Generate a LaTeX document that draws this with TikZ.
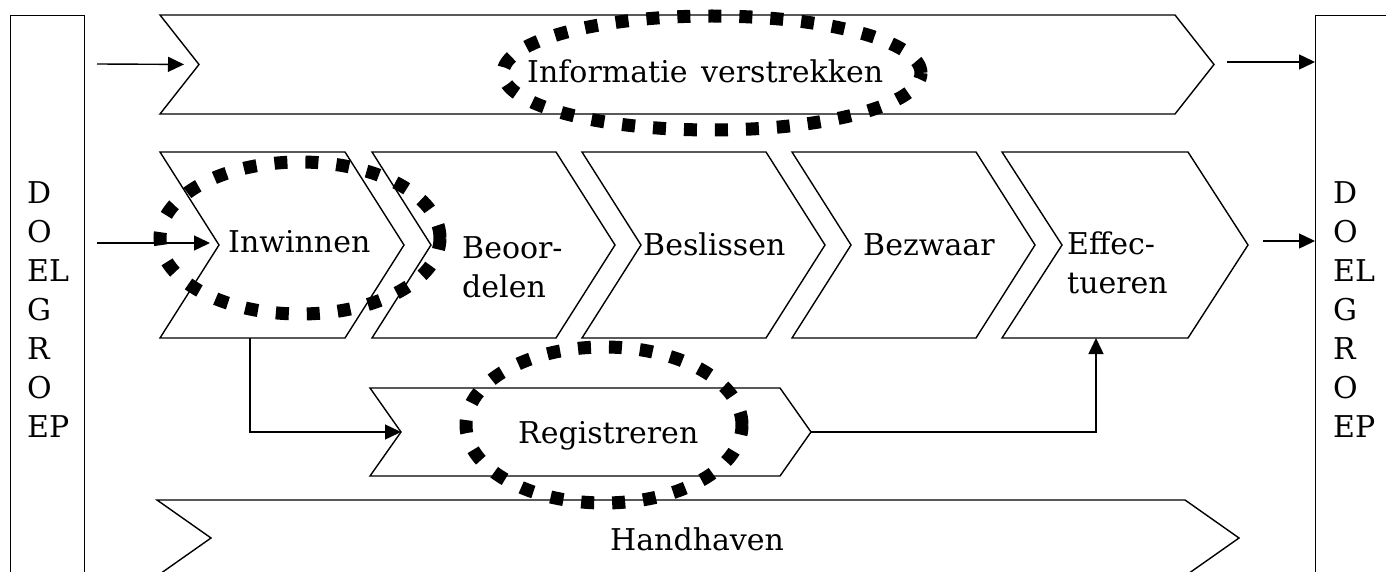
\documentclass[tikz,border=0pt]{standalone}
\usepackage{fontspec}
\setmainfont{DejaVu Serif}
\usetikzlibrary{arrows.meta}
\tikzset{
  chev/.style={draw=black, line width=1.4pt, line join=miter},
  txt/.style={inner sep=0pt, font=\fontsize{30}{39}\selectfont},
  lbl/.style={txt, anchor=base west},
  arr/.style={draw=black, line width=1.4pt, -{Triangle[length=16pt,width=15pt]}},
  dotring/.style={draw=black, line width=13pt, dash pattern=on 13pt off 18pt},
  boxnode/.style={draw=black, line width=1.4pt, anchor=north west, inner sep=0pt, minimum height=580pt},
}
\newcommand\chevshape[6]{%
  \draw[chev] (#2,#3) -- ++(#5,0) -- ++(#6,{(#4-#3)/2}) -- ++(-#6,{(#4-#3)/2})
    -- ++(-#5,0) -- ++(#6,{-(#4-#3)/2}) -- cycle;
  \coordinate (#1-notch) at ({#2+#6},{(#3+#4)/2});
  \coordinate (#1-tip) at ({#2+#5+#6},{(#3+#4)/2});
}
\begin{document}
\begin{tikzpicture}[x=1pt,y=-1pt]
\useasboundingbox (0,0) rectangle (1386,572);
\clip (0,0) rectangle (1386,572);

% side boxes
\node[boxnode, minimum width=74pt] (lbox) at (10,15) {};
\node[boxnode, minimum width=90pt] (rbox) at (1315,15) {};
\node[txt, align=left, anchor=north west] (ltxt) at (27,181) {D\\O\\EL\\G\\R\\O\\EP};
\node[txt, align=left, anchor=north west] (rtxt) at (1333,181) {D\\O\\EL\\G\\R\\O\\EP};

% chevrons
\chevshape{info}{160}{15}{114}{1015}{39}
\chevshape{inw}{160}{152}{338}{185}{59}
\chevshape{beo}{372}{152}{338}{184}{59}
\chevshape{bes}{582}{152}{338}{184}{59}
\chevshape{bez}{792}{152}{338}{184}{59}
\chevshape{eff}{1002}{152}{338}{186}{60}
\chevshape{reg}{370}{388}{476}{410}{31}
\chevshape{hand}{157}{500}{576}{1028}{54}

% labels
\node[lbl] (tinfo) at (527,83) {Informatie\hspace{4pt} verstrekken};
\node[lbl] (tinw) at (228,252) {Inwinnen};
\node[lbl, align=left] (tbeo) at (462,297) {Beoor-\\delen};
\node[lbl] (tbes) at (643,255) {Beslissen};
\node[lbl] (tbez) at (863,255) {Bezwaar};
\node[lbl, align=left] (teff) at (1067,293) {Effec-\\tueren};
\node[lbl] (treg) at (518,443) {Registreren};
\node[lbl] (thand) at (610,550) {Handhaven};

% dotted rings
\draw[dotring] (712,73) ellipse [x radius=209pt, y radius=57pt];
\draw[dotring] (300,238) ellipse [x radius=140pt, y radius=76pt];
\draw[dotring] (604,425) ellipse [x radius=138pt, y radius=78pt];

% connectors
\coordinate (a1s) at (97,64);
\coordinate (a2s) at (97,243);
\coordinate (a3s) at (1227,62);
\coordinate (a4s) at (1263,241);
\coordinate (inwb) at (250,338);
\coordinate (effb) at (1096,338);
\draw[arr, shorten >=15pt] (a1s) -- (info-notch);
\draw[arr, shorten >=9pt] (a2s) -- (a2s -| inw-notch);
\draw[arr] (a3s) -- (a3s -| rbox.west);
\draw[arr] (a4s) -- (a4s -| rbox.west);
\draw[arr] (inwb) |- (reg-notch);
\draw[arr] (reg-tip) -| (effb);
\end{tikzpicture}
\end{document}
